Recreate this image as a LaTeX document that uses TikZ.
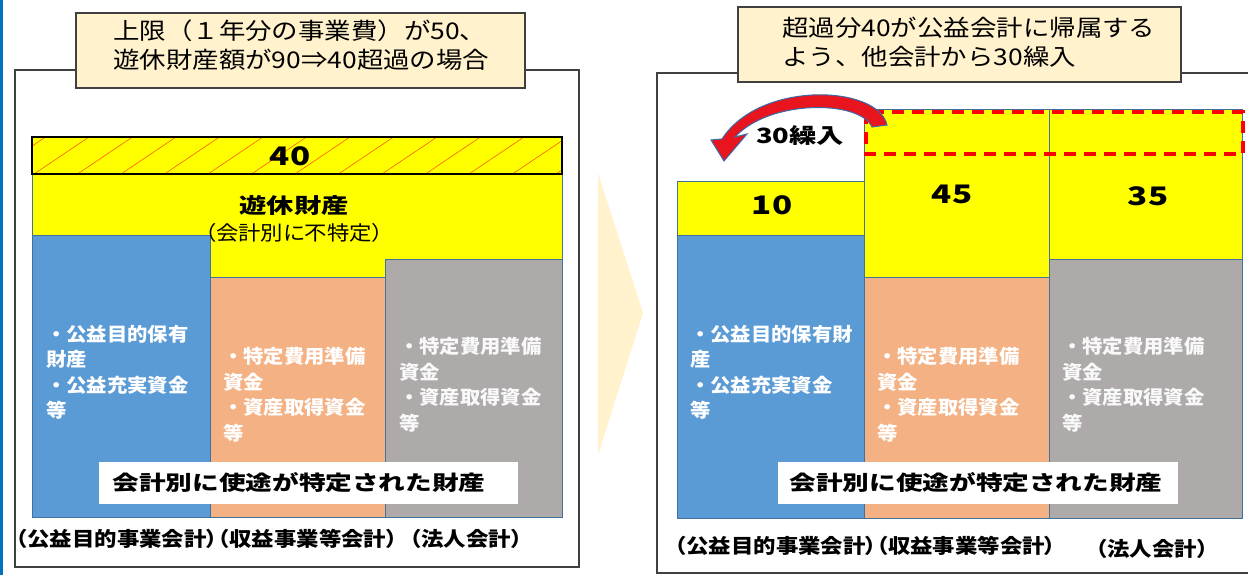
\documentclass[tikz,border=0pt]{standalone}
\usepackage{fontspec}
\newfontfamily\jpA[FakeStretch=1.15]{Noto Sans CJK JP}
\newfontfamily\jpB[FakeStretch=1.07]{Noto Sans CJK JP}
\newfontfamily\jpC[FakeStretch=1.3]{Noto Sans CJK JP}
\newfontfamily\jpL[FakeStretch=1.12,RawFeature=+palt]{Noto Sans CJK JP}
\definecolor{colblue}{HTML}{5B9BD5}
\definecolor{colorange}{HTML}{F4B183}
\definecolor{colgray}{HTML}{AEAAAA}
\definecolor{yel}{HTML}{FFFF00}
\definecolor{cream}{HTML}{FFF2CC}
\definecolor{edgeblue}{HTML}{41719C}
\definecolor{framegray}{HTML}{404040}
\definecolor{leftbar}{HTML}{0070C0}
\definecolor{hatchred}{HTML}{FF5A00}
\definecolor{arrowred}{HTML}{E8141E}
\definecolor{arrowblue}{HTML}{3A6AA8}
\tikzset{
  frame/.style={draw=framegray, line width=1.4pt},
  titlebox/.style={draw=framegray, fill=cream, line width=1.3pt},
  bar/.style={draw=edgeblue, line width=0.8pt},
  coltext/.style={anchor=north west, inner sep=0pt, align=left, text=white,
    font=\jpB\bfseries\fontsize{19}{25.5}\selectfont},
  graytext/.style={coltext, text=white!95!gray},
  labeltext/.style={inner sep=0pt, font=\jpL\bfseries\fontsize{20}{24}\selectfont},
  boxtext/.style={inner sep=0pt, font=\jpC\bfseries\fontsize{20.5}{24}\selectfont},
  numtext/.style={inner sep=0pt, font=\jpC\bfseries\fontsize{25.5}{28}\selectfont},
  titletext/.style={inner sep=0pt, anchor=north west, align=left, font=\jpA\fontsize{23}{29}\selectfont},
  hatch/.style={draw=hatchred, line width=0.6pt},
}
\begin{document}
\begin{tikzpicture}[x=1pt,y=-1pt]
\useasboundingbox (0,0) rectangle (1248,575);
\fill[white] (0,0) rectangle (1248,575);
% left blue strip
\fill[leftbar] (0,0) rectangle (3,575);

% ================= LEFT PANEL =================
\draw[frame] (15,70) rectangle (579,567);
\draw[titlebox] (76,13) rectangle (525,88);
\node[titletext] (lt) at (113,20) {上限（１年分の事業費）が50、\\遊休財産額が90⇒40超過の場合};

% yellow area and columns
\filldraw[bar, fill=yel] (32,174) rectangle (562,517);
\filldraw[bar, fill=colblue] (32,235) rectangle (210,517);
\filldraw[bar, fill=colorange] (210,277) rectangle (385,517);
\filldraw[bar, fill=colgray] (385,259) rectangle (562,517);

% hatched 40 bar
\fill[yel] (32,137) rectangle (562,174);
\begin{scope}
\clip (32,137) rectangle (562,174);
\foreach \i in {-1,...,12} \draw[hatch] ({34+43.5*\i},174) -- ++(55,-37);
\end{scope}
\draw[black, line width=1.5pt] (32,137) rectangle (562,174);
\node[numtext] (n40) at (290,156) {40};

\node[inner sep=0pt, font=\jpC\bfseries\fontsize{21}{24}\selectfont] (yk) at (294,205) {遊休財産};
\node[inner sep=0pt, font=\jpL\fontsize{20}{24}\selectfont] (yk2) at (294,233) {（会計別に不特定）};

\node[coltext] (lb) at (46,325) {・公益目的保有\\財産\\・公益充実資金\\等};
\node[coltext] (lo) at (223,347) {・特定費用準備\\資金\\・資産取得資金\\等};
\node[graytext] (lg) at (399,337) {・特定費用準備\\資金\\・資産取得資金\\等};

\fill[white] (99,462) rectangle (518,504);
\node[boxtext] (lbox) at (299,483) {会計別に使途が特定された財産};

\node[labeltext, anchor=west] (la1) at (16,539) {（公益目的事業会計）};
\node[labeltext, anchor=west] (la2) at (la1.east) {（収益事業等会計）};
\node[labeltext, anchor=west] (la3) at (410,539) {（法人会計）};

% chevron
\fill[cream] (598,173) -- (643,313) -- (598,455) -- cycle;

% ================= RIGHT PANEL =================
\draw[frame] (1250,73) -- (657,73) -- (657,573) -- (1250,573);
\draw[titlebox] (738,7) rectangle (1181,82);
\node[titletext] (rt) at (782,17) {超過分40が公益会計に帰属する\\よう、他会計から30繰入};

\filldraw[bar, fill=yel] (677,181) rectangle (864,235);
\filldraw[bar, fill=yel] (864,109) rectangle (1049,277);
\filldraw[bar, fill=yel] (1049,109) rectangle (1242,259);
\filldraw[bar, fill=colblue] (677,235) rectangle (864,518);
\filldraw[bar, fill=colorange] (864,277) rectangle (1049,518);
\filldraw[bar, fill=colgray] (1049,259) rectangle (1242,518);

\draw[red, line width=3.5pt, dash pattern=on 12pt off 8pt] (866,112) rectangle (1243,154);

\node[numtext] (n10) at (772,205) {10};
\node[numtext] (n45) at (952,194) {45};
\node[numtext] (n35) at (1148,196) {35};

% curved arrow
\filldraw[fill=arrowred, draw=arrowblue, line width=1pt]
  (887,125) .. controls (878,85) and (760,80) .. (722,139)
  -- (711,140) -- (724,161) -- (747,134) -- (735,137)
  .. controls (770,99) and (860,100) .. (872,127) -- cycle;
\node[inner sep=0pt, font=\jpC\bfseries\fontsize{21}{24}\selectfont] (r30) at (800,135) {30繰入};

\node[coltext] (rb) at (690,325) {・公益目的保有財\\産\\・公益充実資金\\等};
\node[coltext] (ro) at (877,347) {・特定費用準備\\資金\\・資産取得資金\\等};
\node[graytext] (rg) at (1062,337) {・特定費用準備\\資金\\・資産取得資金\\等};

\fill[white] (778,462) rectangle (1178,504);
\node[boxtext] (rbox) at (976,483) {会計別に使途が特定された財産};

\node[labeltext, anchor=west] (ra1) at (675,546) {（公益目的事業会計）（収益事業等会計）};
\node[labeltext, anchor=west] (ra2) at (1096,549) {（法人会計）};
\end{tikzpicture}
\end{document}
